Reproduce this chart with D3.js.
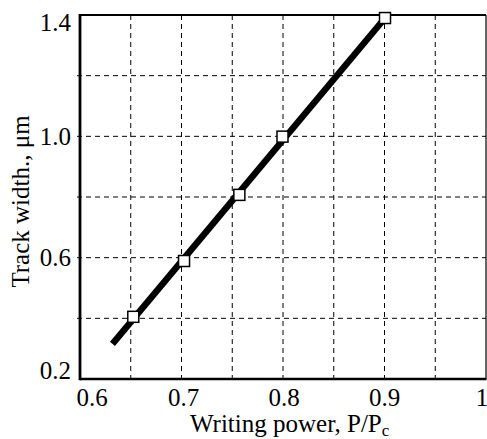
<!DOCTYPE html>
<html><head><meta charset="utf-8">
<script src="https://cdn.jsdelivr.net/npm/d3@7"></script>
<style>body{margin:0;background:#fff}svg{display:block}</style>
</head><body>
<script>
// Data
const powerValues = [0.6525, 0.7025, 0.757, 0.7995, 0.9005];
const widthValues = [0.405, 0.589, 0.807, 0.999, 1.39];
const fitPower = [0.632, 0.9005];
const fitWidth = [0.316, 1.39];
const xTickValues = [0.6, 0.7, 0.8, 0.9, 1.0];
const xTickLabels = ["0.6", "0.7", "0.8", "0.9", "1"];
const yTickValues = [0.2, 0.6, 1.0, 1.4];
const yTickLabels = ["0.2", "0.6", "1.0", "1.4"];
const xGrid = [0.65, 0.7, 0.75, 0.8, 0.85, 0.9, 0.95];
const yGrid = [0.4, 0.6, 0.8, 1.0, 1.2];

const W = 487, H = 439;
const L = 80, R = 486, T = 15, B = 379;
const svg = d3.select("body").append("svg").attr("width", W).attr("height", H);
const x = d3.scaleLinear().domain([0.6, 1.0]).range([L, R]);
const y = d3.scaleLinear().domain([0.2, 1.4]).range([B, T]);
const font = "'Liberation Serif','Times New Roman',serif";

// grid
svg.append("g").selectAll("line").data(xGrid).join("line")
  .attr("x1", d => x(d)).attr("x2", d => x(d)).attr("y1", T).attr("y2", B + 3)
  .attr("stroke", "#000").attr("stroke-width", 1).attr("stroke-dasharray", "5,4");
svg.append("g").selectAll("line").data(yGrid).join("line")
  .attr("y1", d => y(d)).attr("y2", d => y(d)).attr("x1", L - 3).attr("x2", R)
  .attr("stroke", "#000").attr("stroke-width", 1).attr("stroke-dasharray", "5,4");

// frame
svg.append("line").attr("x1", L).attr("x2", R).attr("y1", T).attr("y2", T).attr("stroke", "#000").attr("stroke-width", 2);
svg.append("line").attr("x1", R).attr("x2", R).attr("y1", T).attr("y2", B).attr("stroke", "#000").attr("stroke-width", 1.2);
svg.append("line").attr("x1", L).attr("x2", R + 0.5).attr("y1", B).attr("y2", B).attr("stroke", "#000").attr("stroke-width", 2.5);
svg.append("line").attr("x1", L).attr("x2", L).attr("y1", T - 1).attr("y2", B + 1.2).attr("stroke", "#000").attr("stroke-width", 2.8);

// fit line
const line = d3.line().x(d => x(d[0])).y(d => y(d[1]));
svg.append("path").datum(d3.zip(fitPower, fitWidth)).attr("d", line)
  .attr("fill", "none").attr("stroke", "#000").attr("stroke-width", 6.5);

// markers
const s = 11;
svg.append("g").selectAll("rect").data(d3.zip(powerValues, widthValues)).join("rect")
  .attr("x", d => x(d[0]) - s / 2).attr("y", d => y(d[1]) - s / 2)
  .attr("width", s).attr("height", s)
  .attr("fill", "#fff").attr("stroke", "#000").attr("stroke-width", 1.5);

// tick labels
const xShift = [12, 2, 1, 0, -4];
svg.append("g").selectAll("text").data(xTickValues).join("text")
  .attr("x", (d, i) => x(d) + xShift[i]).attr("y", 406)
  .attr("text-anchor", "middle").attr("font-family", font).attr("font-size", 25)
  .text((d, i) => xTickLabels[i]);
const yShift = [-9, 0, 0, 7];
svg.append("g").selectAll("text").data(yTickValues).join("text")
  .attr("x", 71).attr("y", (d, i) => y(d) + yShift[i] + 8.5)
  .attr("text-anchor", "end").attr("font-family", font).attr("font-size", 25)
  .text((d, i) => yTickLabels[i]);

// axis titles
const xt = svg.append("text").attr("x", 190).attr("y", 432)
  .attr("font-family", font).attr("font-size", 25);
xt.append("tspan").text("Writing power, P/P");
xt.append("tspan").attr("dy", 4).attr("font-size", 17).text("c");

svg.append("text").attr("transform", "translate(29,201.5) rotate(-90)")
  .attr("text-anchor", "middle").attr("font-family", font).attr("font-size", 25)
  .text("Track width., μm");
</script>
</body></html>
